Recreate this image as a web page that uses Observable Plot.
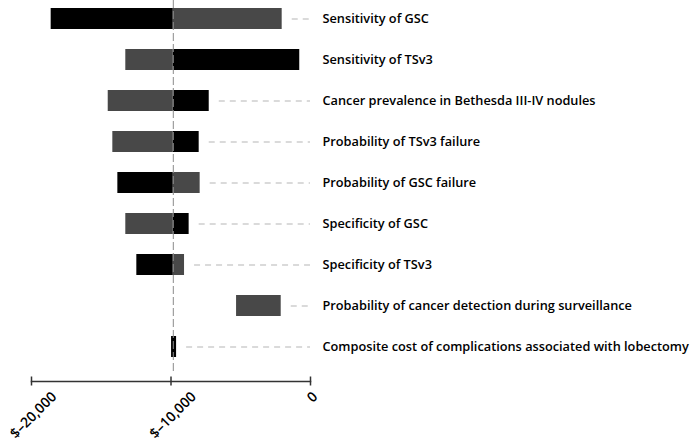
<!DOCTYPE html>
<html>
<head>
<meta charset="utf-8">
<script src="https://cdn.jsdelivr.net/npm/d3@7"></script>
<script src="https://cdn.jsdelivr.net/npm/@observablehq/plot@0.6"></script>
<style>
  html, body { margin: 0; padding: 0; background: #fff; }
</style>
</head>
<body>
<div id="chart"></div>
<script>
const parameters = [
  "Sensitivity of GSC",
  "Sensitivity of TSv3",
  "Cancer prevalence in Bethesda III-IV nodules",
  "Probability of TSv3 failure",
  "Probability of GSC failure",
  "Specificity of GSC",
  "Specificity of TSv3",
  "Probability of cancer detection during surveillance",
  "Composite cost of complications associated with lobectomy"
];
const baseCost = -9835;
// black bars
const blackStart = [baseCost, baseCost, baseCost, baseCost, baseCost, baseCost, baseCost, null, -9960];
const blackEnd   = [-18590, -770, -7260, -7980, -13810, -8700, -12450, null, -9600];
// gray bars
const grayStart  = [baseCost, baseCost, baseCost, baseCost, baseCost, baseCost, baseCost, -5300, null];
const grayEnd    = [-2030, -13240, -14500, -14170, -7910, -13240, -9030, -2100, null];
const xTicks = [-20000, -10000, 0];

const bars = [];
parameters.forEach((p, i) => {
  if (blackEnd[i] != null) bars.push({param: p, x1: blackStart[i], x2: blackEnd[i], series: "A"});
  if (grayEnd[i] != null) bars.push({param: p, x1: grayStart[i], x2: grayEnd[i], series: "B"});
});
const leaderPad = 720;
const leaders = parameters.map((p, i) => {
  const ends = [blackStart[i], blackEnd[i], grayStart[i], grayEnd[i]].filter(v => v != null);
  return {param: p, from: Math.max(...ends) + leaderPad};
}).filter(d => d.from < -300);

const fmt = d => d === 0 ? "0" : "$\u2013" + d3.format(",")(Math.abs(d));

const chart = Plot.plot({
  width: 700,
  height: 443,
  marginLeft: 31,
  marginRight: 390,
  marginTop: 2,
  marginBottom: 62,
  style: {fontFamily: "'Open Sans', sans-serif", fontSize: "13px", color: "#000", background: "#fff"},
  x: {domain: [-20000, 0], axis: null},
  y: {domain: parameters, paddingInner: 0.5, paddingOuter: 0.1, insetBottom: 18.5, axis: null},
  color: {type: "ordinal", domain: ["A", "B"], range: ["#000000", "#484848"]},
  marks: [
    Plot.ruleY(leaders, {y: "param", x1: "from", x2: 0, stroke: "#b5b5b5", strokeDasharray: "6,5", strokeWidth: 1}),
    Plot.barX(bars, {y: "param", x1: "x1", x2: "x2", fill: "series"}),
    Plot.ruleX([baseCost], {stroke: "#8a8a8a", strokeDasharray: "8,3", strokeWidth: 1, insetTop: -2, insetBottom: 8}),
    Plot.frame({anchor: "bottom", stroke: "#333", strokeWidth: 1.5}),
    Plot.axisX(xTicks, {tickSize: 9, dy: -4.5, tickFormat: () => "", stroke: "#333", strokeWidth: 1.5, label: null}),
    Plot.text(xTicks, {x: d => d, frameAnchor: "bottom", text: fmt, rotate: -45, textAnchor: "end", fontSize: 14, fontWeight: 600, fill: "#000", className: "xlab"}),
    Plot.text(parameters, {x: 0, y: d => d, text: d => d, textAnchor: "start", dx: 12, fontSize: 12.75, fontWeight: 600, fill: "#000"})
  ]
});
document.getElementById("chart").appendChild(chart);

// place rotated tick labels so their bounding box is centered below the tick
const xs = chart.scale("x");
d3.select(chart).selectAll(".xlab text").each(function(d, i) {
  const L = this.getComputedTextLength();
  const px = xs.apply(xTicks[i]);
  const off = L / Math.SQRT2;
  this.setAttribute("transform", `translate(${px + off / 2 - 2},390) rotate(-45)`);
  this.setAttribute("dy", "0.71em");
  this.setAttribute("y", 0);
  this.setAttribute("x", 0);
});
</script>
</body>
</html>
